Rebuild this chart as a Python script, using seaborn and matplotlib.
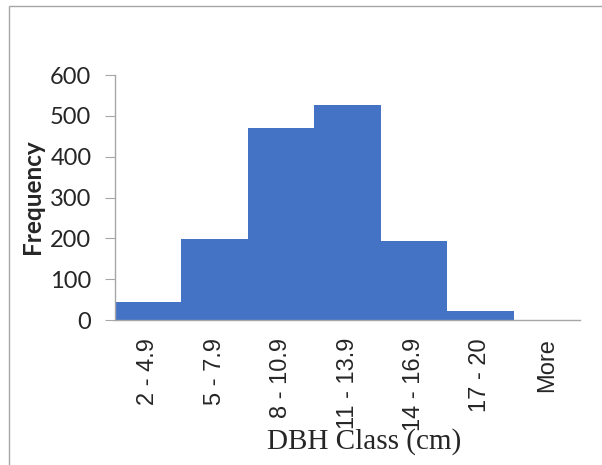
import matplotlib
matplotlib.use("Agg")
import matplotlib.pyplot as plt
import seaborn as sns
import pandas as pd
from matplotlib.patches import Rectangle

classes = ["2 - 4.9", "5 - 7.9", "8 - 10.9", "11 - 13.9", "14 - 16.9", "17 - 20", "More"]
frequency = [43, 198, 470, 527, 193, 22, 0]
yticks = [0, 100, 200, 300, 400, 500, 600]

df = pd.DataFrame({"cls": classes, "freq": frequency})

sns.set_style("white")
fig = plt.figure(figsize=(6.02, 4.65), dpi=100)
fig.patch.set_facecolor("white")

# outer chart border
fig.add_artist(Rectangle((9/602, -0.1), 1.2, 1 - 6/465 + 0.1, transform=fig.transFigure,
                         fill=False, edgecolor="#a6a6a6", linewidth=1.0))

ax = fig.add_axes([115/602, 1 - 320/465, (580 - 115)/602, (320 - 75)/465])
sns.barplot(data=df, x="cls", y="freq", ax=ax, width=1.0, color="#4472C4",
            saturation=1, linewidth=0)

ax.set_ylim(0, 600)
ax.set_xlim(-0.5, len(classes) - 0.5)
ax.set_yticks(yticks)
ax.set_yticklabels([str(v) for v in yticks], fontsize=17, family="Lato")
ax.set_xticks(range(len(classes)))
ax.set_xticklabels(classes, rotation=90, fontsize=17, family="Liberation Sans",
                   va="top", ha="center")
ax.tick_params(axis="y", length=7, width=0.8, color="#a6a6a6", pad=10, left=True)
ax.tick_params(axis="x", length=0, pad=13)

for s in ["top", "right"]:
    ax.spines[s].set_visible(False)
for s in ["left", "bottom"]:
    ax.spines[s].set_color("#a6a6a6")
    ax.spines[s].set_linewidth(1.0)

ax.set_xlabel("")
ax.set_ylabel("")
fig.text(33/602, 1 - 197/465, "Frequency", rotation=90, ha="center", va="center",
         fontsize=17.5, fontweight="bold", family="Lato")
fig.text(364/602, 1 - 442/465, "DBH Class (cm)", ha="center", va="center",
         fontsize=21, family="Liberation Serif")

fig.savefig("out.png", dpi=100, facecolor="white")
